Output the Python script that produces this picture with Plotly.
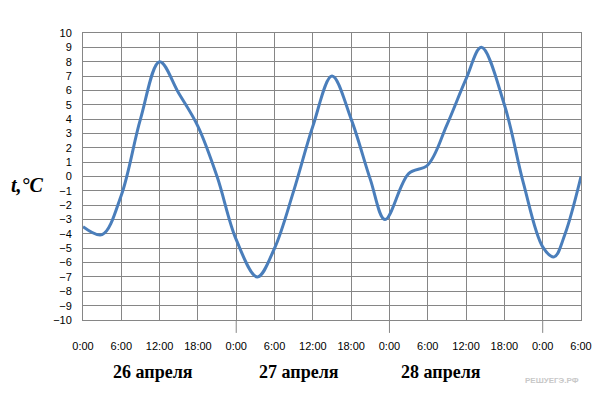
import plotly.graph_objects as go

# Hours since 0:00 on 26 April, and air temperature (°C)
hours = [0, 3, 6, 9, 12, 15, 18, 21, 24, 27.3, 30, 33, 36, 39, 42, 45, 47.3,
         51, 54, 57, 60, 62.4, 66, 69, 72, 73.8, 75.5, 78]
temps = [-3.5, -4.05, -1.3, 4, 8, 5.8, 3.5, 0, -4.4, -7, -5, -1, 3.5, 7, 4, -0.2, -3,
         0.2, 0.8, 3.6, 6.8, 9, 5, -0.5, -4.9, -5.6, -4.0, 0]

tick_hours = list(range(0, 79, 6))
tick_labels = ["0:00", "6:00", "12:00", "18:00", "0:00", "6:00", "12:00", "18:00",
               "0:00", "6:00", "12:00", "18:00", "0:00", "6:00"]
y_ticks = list(range(-10, 11))
day_labels = ["26 апреля", "27 апреля", "28 апреля"]
day_label_pos = [10.9, 33.8, 56.1]
day_bounds = [24, 48, 72]

grid = "#868686"

fig = go.Figure()
fig.add_trace(go.Scatter(
    x=hours, y=temps, mode="lines",
    line=dict(color="#4a7ebb", width=3, shape="spline", smoothing=1.0),
    hoverinfo="skip", showlegend=False))

# the page body adds an 8px margin, so the figure is 8px smaller and shifted
fig.update_layout(
    width=608, height=407,
    margin=dict(l=75, r=35, t=25, b=95),
    paper_bgcolor="white", plot_bgcolor="white",
    font=dict(family="Liberation Sans, Arial, sans-serif", size=11, color="black"),
    xaxis=dict(range=[0, 78], tickvals=tick_hours, ticktext=tick_labels,
               showgrid=True, gridcolor=grid, gridwidth=1, zeroline=False,
               showline=True, linecolor=grid, linewidth=1, mirror=True,
               ticks="", ticklabelstandoff=16, fixedrange=True),
    yaxis=dict(range=[-10, 10], tickvals=y_ticks,
               showgrid=True, gridcolor=grid, gridwidth=1, zeroline=False,
               showline=True, linecolor=grid, linewidth=1, mirror=True,
               ticks="", ticklabelstandoff=8, fixedrange=True),
)

for b in day_bounds:
    fig.add_shape(type="line", xref="x", yref="paper", x0=b, x1=b, y0=0, y1=-0.045,
                  line=dict(color=grid, width=1))

for lab, pos in zip(day_labels, day_label_pos):
    fig.add_annotation(x=pos, xref="x", y=-0.18, yref="paper", text="<b>" + lab + "</b>",
                       showarrow=False, yanchor="middle",
                       font=dict(family="Liberation Serif, Times New Roman, serif", size=18, color="black"))

fig.add_annotation(x=-0.112, xref="paper", y=0.47, yref="paper", text="<b><i>t,°C</i></b>",
                   showarrow=False, xanchor="center", yanchor="middle",
                   font=dict(family="Liberation Serif, Times New Roman, serif", size=20, color="black"))

fig.add_annotation(x=1.0, xref="paper", y=-0.235, yref="paper",
                   text="<b>РЕШУЕГЭ.РФ</b>", showarrow=False, xanchor="right",
                   font=dict(family="Liberation Sans, Arial, sans-serif", size=8, color="#c8c8c8"))

fig.write_html("out.html")
